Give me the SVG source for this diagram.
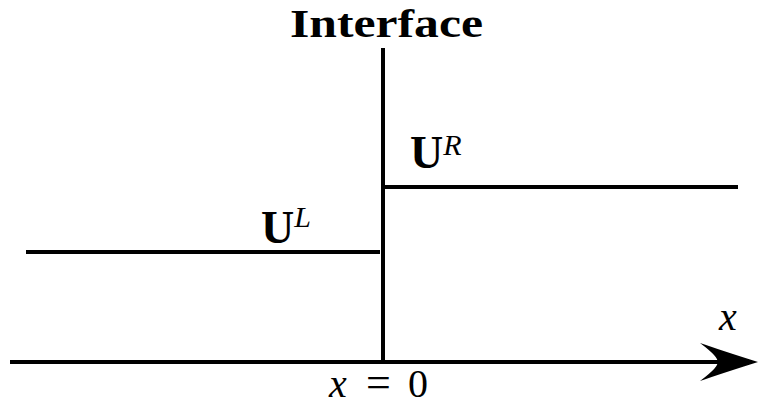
<svg xmlns="http://www.w3.org/2000/svg" width="758" height="407" viewBox="0 0 758 407">
<style>
.ln{stroke:#000;stroke-width:4;fill:none}
.t{font-family:"Liberation Serif","DejaVu Serif",serif;fill:#000}
.b{font-weight:bold}
.i{font-style:italic}
</style>
<rect width="758" height="407" fill="#fff"/>
<g id="connectors">
<line class="ln" x1="10" y1="362" x2="722" y2="362"/>
<path d="M758,362 Q720,350 700,343 Q720,358 717,362 Q720,366 700,381 Q720,374 758,362 Z" fill="#000"/>
<line class="ln" x1="383" y1="48" x2="383" y2="362"/>
<line class="ln" x1="26" y1="252" x2="380" y2="252"/>
<line class="ln" x1="385" y1="187" x2="738" y2="187"/>
</g>
<g id="interface-label"><text class="t b" x="290" y="37" font-size="40" textLength="193" lengthAdjust="spacingAndGlyphs">Interface</text></g>
<g id="UR"><text class="t" x="410" y="168" font-size="46"><tspan class="b">U</tspan><tspan class="i" font-size="30" dy="-13">R</tspan></text></g>
<g id="UL"><text class="t" x="261" y="243" font-size="46"><tspan class="b">U</tspan><tspan class="i" font-size="30" dy="-16">L</tspan></text></g>
<g id="x-label"><text class="t i" x="719" y="330" font-size="40">x</text></g>
<g id="x0-label"><text class="t" y="397" font-size="40"><tspan class="i" x="329">x</tspan><tspan x="366" font-size="44">=</tspan><tspan x="408">0</tspan></text></g>
</svg>
